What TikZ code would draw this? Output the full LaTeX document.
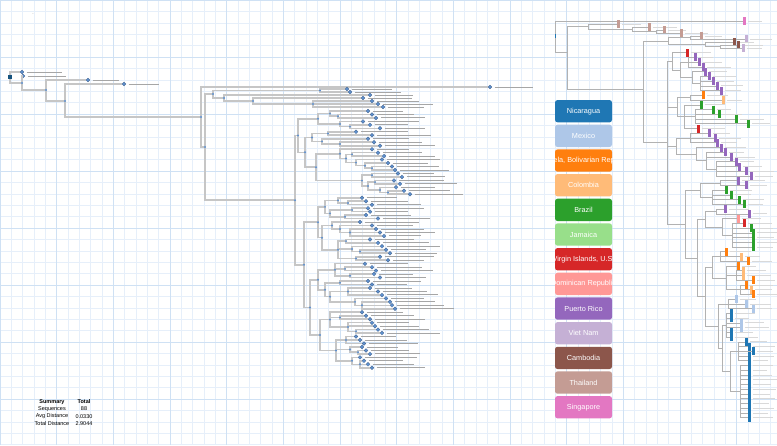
\documentclass[tikz,border=0pt]{standalone}
\usepackage{fontspec}
\setmainfont{Liberation Sans}
\usepackage{tikz}

\definecolor{gridminor}{HTML}{E6EFFA}
\definecolor{gridmajor}{HTML}{CFE1F4}
\definecolor{branchgrey}{HTML}{C6C6C6}
\definecolor{dotblue}{HTML}{5E90CF}
\definecolor{nic}{HTML}{1F77B4}
\definecolor{mex}{HTML}{AEC7E8}
\definecolor{ven}{HTML}{FF7F0E}
\definecolor{col}{HTML}{FFBB78}
\definecolor{bra}{HTML}{2CA02C}
\definecolor{jam}{HTML}{98DF8A}
\definecolor{vir}{HTML}{D62728}
\definecolor{dom}{HTML}{FF9896}
\definecolor{pur}{HTML}{9467BD}
\definecolor{vie}{HTML}{C5B0D5}
\definecolor{cam}{HTML}{8C564B}
\definecolor{tha}{HTML}{C49C94}
\definecolor{sin}{HTML}{E377C2}

\def\leftknots{L/295/25.7/n5, L1/298/7.08/L, c1/318/2.25/L1, c1a/330/0.75/c1, c1b/338/1.5/c1a, c1c/340/3.75/c1, c1d/350/4.5/c1c, c2/305/11.91/L1, c3/312/7.625/c2, c3a/328/6.5/c3, c3b/322/8.75/c3, c3c/340/9.5/c3b, c4/316/16.2/c2, c4a/340/12.34/c4, c4b/346/13.69/c4a, c4c/352/12.5/c4b, c4d/356/14.875/c4b, c4e/365/15.75/c4d, c4f/372/16.5/c4e, c4g/362/20.06/c4, c4h/372/18.5/c4g, c4i/368/21.625/c4g, c4j/375/20.5/c4i, c4k/380/22.75/c4i, c4l/388/23.5/c4k, L2/304/44.33/L, d1/318/32.06/L2, d1a/325/27.625/d1, d1b/338/25.75/d1a, d1c/348/26.5/d1b, d1d/330/29.5/d1a, d1e/352/28.5/d1d, d1f/345/30.5/d1d, d1g/322/36.5/d1, d1h/332/33/d1g, d1i/340/34/d1h, d1j/350/35/d1i, d1k/338/40/d1g, d1l/346/37.5/d1k, d1m/352/39.75/d1k, d1n/360/40.5/d1m, d1o/356/42.5/d1k, d2/310/56.6/L2, d2a/318/48.625/d2, d2b/335/45.75/d2a, d2c/345/45.5/d2b, d2d/350/47.5/d2b, d2e/325/51.5/d2a, d2f/340/49.5/d2e, d2g/330/53.5/d2e, d2h/348/52/d2g, d2i/355/55/d2g, d2j/362/56/d2i, d2k/320/64.56/d2, d2l/330/60.125/d2k, d2m/340/59.5/d2l, d2n/348/62.25/d2l, d2o/356/63.5/d2n, d2p/336/69/d2k, d2q/346/66/d2p, d2r/350/68.75/d2p, d2s/358/69.5/d2r, d2t/352/72/d2p, d2u/360/73/d2t}

\def\leftleaves{0/368/c1a, 1/372/c1b, 2/376/c1b, 3/363/c1c, 4/370/c1d, 5/380/c1d, 6/356/c3a, 7/372/c3a, 8/368/c3b, 9/374/c3c, 10/380/c3c, 11/372/c4a, 12/378/c4c, 13/384/c4c, 14/382/c4d, 15/388/c4e, 16/392/c4f, 17/395/c4f, 18/398/c4h, 19/402/c4h, 20/394/c4j, 21/400/c4j, 22/396/c4k, 23/404/c4l, 24/410/c4l, 25/362/d1b, 26/366/d1c, 27/372/d1c, 28/368/d1e, 29/370/d1e, 30/366/d1f, 31/378/d1f, 32/360/d1h, 33/372/d1i, 34/376/d1j, 35/380/d1j, 36/384/d1j, 37/370/d1l, 38/378/d1l, 39/382/d1m, 40/386/d1n, 41/390/d1n, 42/380/d1o, 43/388/d1o, 44/365/d2b, 45/372/d2c, 46/376/d2c, 47/374/d2d, 48/380/d2d, 49/368/d2f, 50/372/d2f, 51/370/d2h, 52/378/d2h, 53/382/d2h, 54/386/d2i, 55/390/d2j, 56/392/d2j, 57/395/d2j, 58/362/d2l, 59/366/d2m, 60/370/d2m, 61/372/d2n, 62/375/d2n, 63/378/d2o, 64/382/d2o, 65/356/d2q, 66/360/d2q, 67/364/d2q, 68/362/d2r, 69/366/d2s, 70/370/d2s, 71/360/d2t, 72/364/d2u, 73/368/d2u, 74/372/d2u}

\def\rightknots{R1/567/9.84/R0, T/588/1.875/R1, T2/632/2.75/T, T3/656/3.5/T2, R2/643/17.8/R1, A/668/6.625/R2, A1/690/5.5/A, A2/705/7.75/A, A3/720/8.5/A2, R3/667/28.98/R2, P1/672/11.81/R3, P1a/680/13.625/P1, P1b/688/12/P1a, P1c/692/15.25/P1a, P1d/700/16.5/P1c, G1/677/21.5/R3, G1a/690/19.5/G1, G1b/684/23.5/G1, G1c/695/23.5/G1b, P2/676/29.69/R3, P2a/690/28/P2, P2b/696/31.375/P2, P2c/706/32.75/P2b, P2d/716/34.5/P2c, R4/685/46.15/R3, G2/700/39/R4, G2a/720/37.5/G2, G2b/712/40.5/G2, R5/697/53.3/R4, P3/705/45.125/R5, P3a/716/43.5/P3, P3b/722/46.75/P3, P3c/732/48.5/P3b, R6/705/61.47/R5, O1/712/55.25/R6, O1a/720/53/O1, O1b/726/57.5/O1, O1c/736/57/O1b, O1d/740/60/O1b, R7/718/67.69/R6, M1/728/63/R7, N1/722/72.375/R7, N1a/726/67.5/N1, N1b/730/77.25/N1, N1c/738/73/N1b, N1d/740/81.5/N1b}

\def\rightleaves{0/743/R0/sin, 1/617/T/tha, 2/648/T2/tha, 3/663/T3/tha, 4/680/T3/tha, 5/700/A1/tha, 6/745/A1/vie, 7/733/A2/cam, 8/737/A3/cam, 9/742/A3/vie, 10/686/P1/vir, 11/694/P1b/pur, 12/698/P1b/pur, 13/702/P1b/pur, 14/704/P1c/pur, 15/708/P1d/pur, 16/712/P1d/pur, 17/716/P1d/pur, 18/720/P1d/pur, 19/702/G1a/ven, 20/722/G1a/col, 21/700/G1b/bra, 22/712/G1c/bra, 23/718/G1c/bra, 24/735/G1c/bra, 25/747/G1c/bra, 26/697/G1b/vir, 27/708/P2a/pur, 28/714/P2a/pur, 29/716/P2a/pur, 30/720/P2b/pur, 31/724/P2c/pur, 32/730/P2c/pur, 33/735/P2d/pur, 34/738/P2d/pur, 35/745/P2d/pur, 36/750/P2d/pur, 37/737/G2a/pur, 38/745/G2a/pur, 39/725/G2b/bra, 40/730/G2b/bra, 41/738/G2b/bra, 42/743/G2b/bra, 43/724/P3a/pur, 44/748/P3a/pur, 45/737/P3b/dom, 46/743/P3c/vir, 47/750/P3c/bra, 48/752/P3c/bra, 49/752/P3c/bra, 50/752/P3c/bra, 51/752/P3c/bra, 52/725/O1a/ven, 53/740/O1a/col, 54/747/O1a/ven, 55/737/O1b/ven, 56/742/O1c/col, 57/742/O1c/col, 58/752/O1c/ven, 59/745/O1d/ven, 60/750/O1d/col, 61/752/O1d/ven, 62/735/M1/mex, 63/745/M1/mex, 64/752/M1/mex, 65/730/N1a/nic, 66/730/N1a/nic, 67/740/N1a/mex, 68/740/N1a/mex, 69/730/N1a/nic, 70/730/N1a/nic, 71/745/N1c/nic, 72/748/N1c/nic, 73/752/N1c/nic, 74/748/N1c/nic, 75/748/N1c/nic, 76/748/N1d/nic, 77/748/N1d/nic, 78/748/N1d/nic, 79/748/N1d/nic, 80/748/N1d/nic, 81/748/N1d/nic, 82/748/N1d/nic, 83/748/N1d/nic, 84/748/N1d/nic, 85/748/N1d/nic, 86/748/N1d/nic, 87/748/N1d/nic}

\begin{document}
\begin{tikzpicture}[x=1pt,y=-1pt,
    limb/.style={draw=branchgrey, line width=1.6pt},
    twig/.style={draw=gray!60, line width=0.7pt},
    leafdot/.style={circle, inner sep=0pt, minimum size=3.8pt, fill=dotblue, draw=dotblue!70!black, line width=0.3pt},
    knot/.style={circle, inner sep=0pt, minimum size=2.2pt, fill=dotblue},
    tagline/.style={draw=gray!70, line width=0.9pt},
    faint/.style={draw=gray!30, line width=0.9pt},
    tipbar/.style={rectangle, inner sep=0pt, minimum width=3pt, minimum height=8pt, anchor=west},
    keybox/.style={rounded corners=2.5pt, minimum width=57pt, minimum height=22.3pt, inner sep=0pt},
    keytext/.style={text=white, font=\fontsize{7.3}{8}\selectfont, inner sep=0pt},
    summary/.style={font=\fontsize{5.5}{6}\selectfont, inner sep=0pt}]

    \useasboundingbox (0,0) rectangle (777,445);
    \fill[white] (0,0) rectangle (777,445);

    \foreach \i in {0,...,68} \draw[gridminor, line width=0.6pt] ({\i*11.333},0) -- ({\i*11.333},445);
    \foreach \i in {0,...,39} \draw[gridminor, line width=0.6pt] (0,{\i*11.4}) -- (777,{\i*11.4});
    \foreach \i in {0,...,13} \draw[gridmajor, line width=0.9pt] ({\i*56.667},0) -- ({\i*56.667},445);
    \foreach \i in {0,...,7} \draw[gridmajor, line width=0.9pt] (0,{\i*57}) -- (777,{\i*57});

    \node[font=\fontsize{5}{5}\selectfont, text=gray, inner sep=0pt] (speck) at (33,14) {.};

    \node[summary, font=\fontsize{5.5}{6}\selectfont\bfseries] (sumhead) at (52,402) {Summary};
    \node[summary, font=\fontsize{5.5}{6}\selectfont\bfseries] (tothead) at (84,402) {Total};
    \node[summary] (seqname) at (52,409) {Sequences};
    \node[summary] (seqval) at (84,409) {88};
    \node[summary] (avgname) at (52,416.4) {Avg Distance};
    \node[summary] (avgval) at (84,416.4) {0.0330};
    \node[summary] (totname) at (52,424) {Total Distance};
    \node[summary] (totval) at (84,424) {2.9044};

    \coordinate (root) at (10,77);
    \coordinate (n1) at (22,83);
    \coordinate (n2) at (46,90);
    \coordinate (n3) at (65,101);
    \coordinate (n4) at (201,117);
    \coordinate (n5) at (205,147);
    \coordinate (U) at (213,94);
    \coordinate (u1) at (320,90.5);
    \coordinate (u2) at (224,98);
    \coordinate (u3) at (253,101);
    \coordinate (u4) at (313,104);

    \foreach \n/\x/\m/\p in \leftknots {
        \pgfmathsetmacro\yy{111+3.47*\m}
        \coordinate (\n) at (\x,\yy);
    }

    \draw[limb] (root) |- (n1);
    \draw[limb] (n1) |- (n2);
    \draw[limb] (n2) |- (n3);
    \draw[limb] (n3) |- (n4);
    \draw[limb] (n4) |- (n5);
    \draw[limb] (n5) |- (U);
    \draw[limb] (U) |- (u1);
    \draw[limb] (U) |- (u2);
    \draw[limb] (u2) |- (u3);
    \draw[limb] (u3) |- (u4);
    \foreach \n/\x/\m/\p in \leftknots \draw[limb] (\p) |- (\n);

    \foreach \n/\x/\y/\p/\len in {o1/22/72/root/35, o2/23/76/n1/38, o3/88/80/n2/26, o4/124/84/n3/30, o5/490/87/n4/38, ua/347/89/u1/40, ub/350/92/u1/46, uc/370/95/u2/38, ud/363/98/u3/44, ue/372/101/u4/42, uf/378/104/u4/50, ug/383/107/u4/36} {
        \node[leafdot] (\n) at (\x,\y) {};
        \draw[limb] (\p) |- (\n);
        \draw[tagline] ([xshift=2.5pt]\n.east) -- ++(\len,0);
    }

    \foreach \k/\x/\p in \leftleaves {
        \pgfmathsetmacro\yy{111+3.47*\k}
        \pgfmathsetmacro\len{30+mod(7*\k,25)}
        \node[leafdot] (l\k) at (\x,\yy) {};
        \draw[limb] (\p) |- (l\k);
        \draw[tagline] ([xshift=2.5pt]l\k.east) -- ++(\len,0);
    }

    \foreach \n in {n1,n2,n3,n4,n5,U,u1,u2,u3,u4} \node[knot] at (\n) {};
    \foreach \n/\x/\m/\p in \leftknots \node[knot] at (\n) {};
    \fill[nic!70!black] (8,75) rectangle (12,79);

    \coordinate (R0) at (555,35.8);
    \foreach \n/\x/\m/\p in \rightknots {
        \pgfmathsetmacro\yy{\m<9.5 ? 21+3*\m : 48+4.74*(\m-9)}
        \coordinate (\n) at (\x,\yy);
    }
    \foreach \n/\x/\m/\p in \rightknots \draw[twig] (\p) |- (\n);

    \foreach \j/\x/\p/\c in \rightleaves {
        \pgfmathsetmacro\yy{\j<9.5 ? 21+3*\j : 48+4.74*(\j-9)}
        \pgfmathsetmacro\len{14+mod(5*\j,11)}
        \node[tipbar, fill=\c] (r\j) at (\x,\yy) {};
        \draw[twig] (\p) |- (r\j.west);
        \draw[faint] ([xshift=1.5pt]r\j.east) -- ++(\len,0);
    }
    \fill[nic] (554.6,34) rectangle (555.6,38);

    \foreach \name/\c [count=\i from 0] in {Nicaragua/nic, Mexico/mex, {Venezuela, Bolivarian Republic of}/ven, Colombia/col, Brazil/bra, Jamaica/jam, {Virgin Islands, U.S.}/vir, Dominican Republic/dom, Puerto Rico/pur, Viet Nam/vie, Cambodia/cam, Thailand/tha, Singapore/sin}
        \node[keybox, fill=\c, path picture={\node[keytext] at (path picture bounding box.center) {\name};}] (key\i) at (583.5,{111.2+24.67*\i}) {};
\end{tikzpicture}
\end{document}
